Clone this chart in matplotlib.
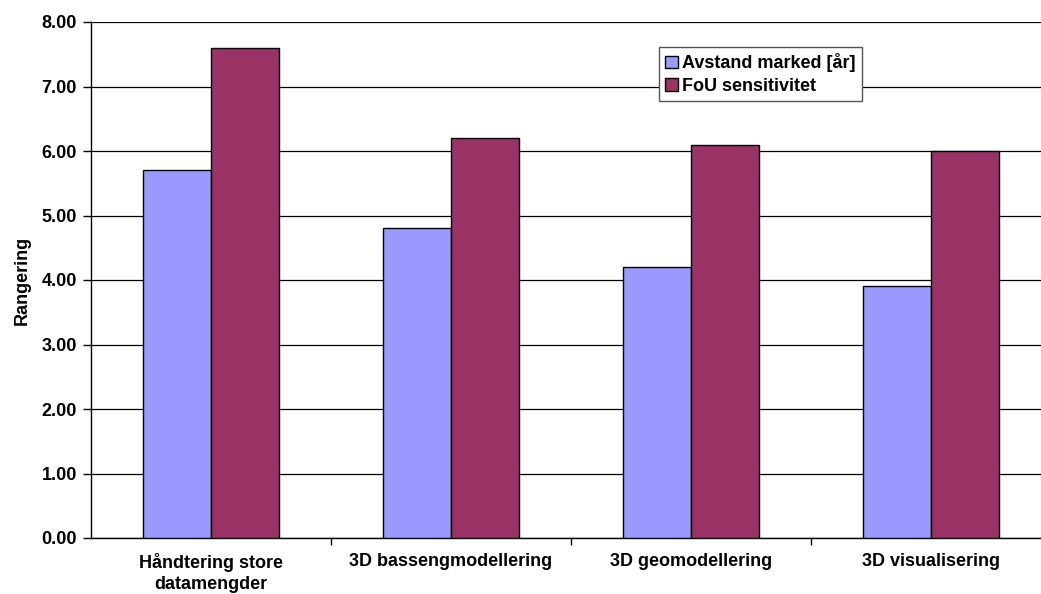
import matplotlib
matplotlib.use("Agg")
import matplotlib.pyplot as plt
import numpy as np

categories = ["Håndtering store\ndatamengder", "3D bassengmodellering",
              "3D geomodellering", "3D visualisering"]
avstand = [5.7, 4.8, 4.2, 3.9]
fou = [7.6, 6.2, 6.1, 6.0]
series_names = ["Avstand marked [år]", "FoU sensitivitet"]
yticks = [0, 1, 2, 3, 4, 5, 6, 7, 8]

plt.rcParams['font.family'] = ['Liberation Sans', 'DejaVu Sans']
plt.rcParams['font.weight'] = 'bold'
plt.rcParams['font.size'] = 13

fig = plt.figure(figsize=(10.41, 5.94), dpi=100)
W, H = 1041, 594
# plot area runs past the right edge of the figure
ax = fig.add_axes([91 / W, (H - 538) / H, 960 / W, 516 / H])

x = np.arange(len(categories))
bw = 0.283
ax.bar(x - bw / 2, avstand, bw, color='#9999FF', edgecolor='black', linewidth=1.0,
       label=series_names[0], zorder=3)
ax.bar(x + bw / 2, fou, bw, color='#993366', edgecolor='black', linewidth=1.0,
       label=series_names[1], zorder=3)

ax.set_xlim(-0.5, len(categories) - 0.5)
ax.set_ylim(0, 8)
ax.set_yticks(yticks)
ax.set_yticklabels([f"{v:.2f}" for v in yticks], fontweight='bold')
ax.yaxis.grid(True, color='black', linewidth=0.9, zorder=0)
ax.set_axisbelow(True)

ax.set_xticks(x)
ax.set_xticklabels(categories, fontweight='bold', linespacing=1.3)
ax.set_xticks(np.arange(0.5, len(categories) - 0.5, 1.0), minor=True)
ax.tick_params(axis='x', which='major', length=0, pad=11)
ax.tick_params(axis='x', which='minor', length=5, width=1, direction='out')
ax.tick_params(axis='y', length=6, width=1, direction='out', pad=4)

for s in ['top', 'right']:
    ax.spines[s].set_visible(False)
ax.spines['left'].set_linewidth(1.0)
ax.spines['bottom'].set_linewidth(1.0)

ax.set_ylabel("Rangering", fontweight='bold', labelpad=8)

leg = fig.legend(loc='upper left', bbox_to_anchor=(659 / W, 1 - 47 / H),
                 borderaxespad=0, frameon=True, fancybox=False,
                 handlelength=0.7, handleheight=0.7, handletextpad=0.25,
                 labelspacing=0.3, borderpad=0.35,
                 prop={'weight': 'bold', 'size': 13})
leg.get_frame().set_edgecolor('#555555')
leg.get_frame().set_linewidth(1.0)
leg.get_frame().set_alpha(1)

fig.savefig("out.png", dpi=100)
